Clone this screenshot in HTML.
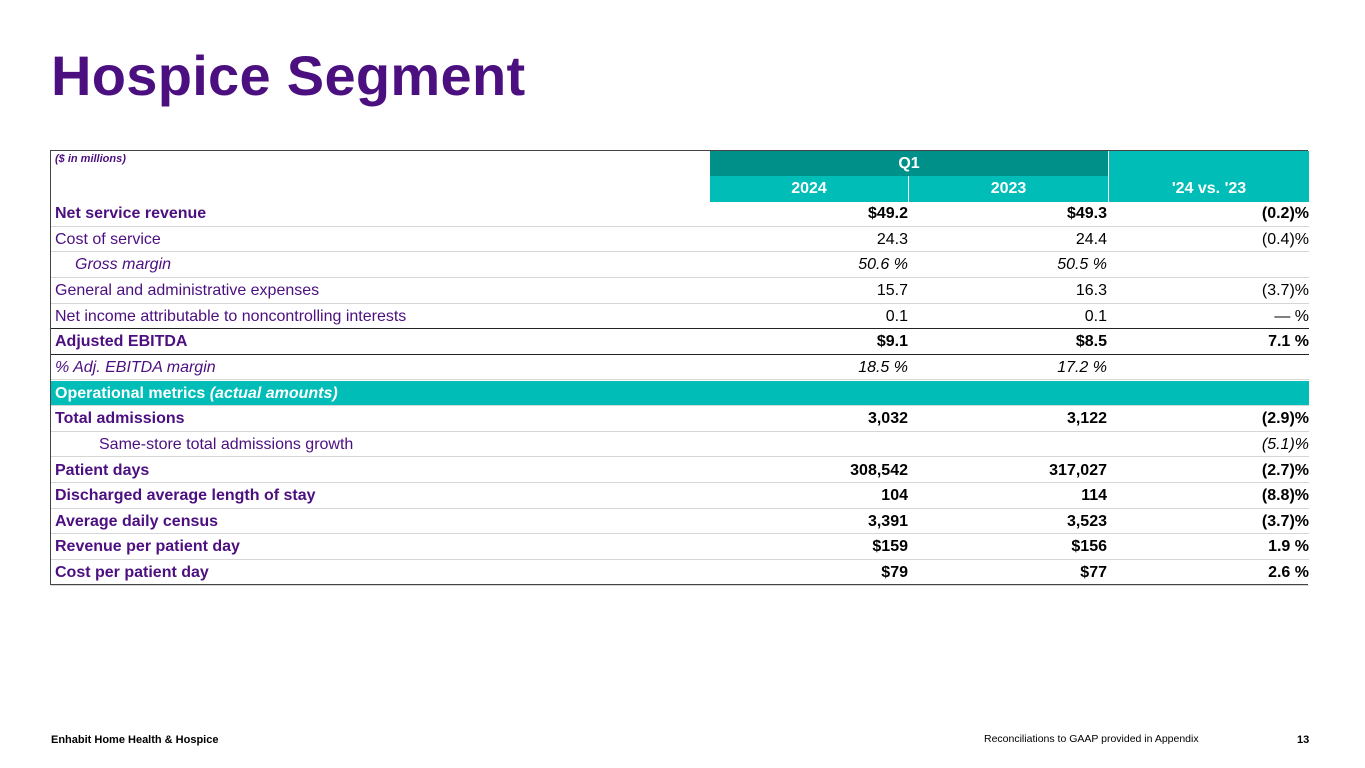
<!DOCTYPE html>
<html><head><meta charset="utf-8"><style>
body{margin:0;width:1365px;height:768px;background:#fff;position:relative;overflow:hidden;font-family:"Liberation Sans",Arial,sans-serif;}
.title{position:absolute;left:51px;top:43px;font-size:56px;font-weight:bold;color:#4c0f80;letter-spacing:0.3px;}
.tbl{position:absolute;left:50px;top:150px;width:1258px;height:435px;border:1px solid #444;border-right:none;box-sizing:border-box;border-top:1px solid #444;}
.row{position:absolute;left:0;width:1258px;height:25.6px;border-bottom:1px solid #d6d6d6;box-sizing:border-box;font-size:16px;line-height:25px;}
.lbl{position:absolute;left:4px;color:#4c0f80;white-space:nowrap;}
.v{position:absolute;text-align:right;color:#000;white-space:nowrap;}
.c1{right:401px}.c2{right:202px}.c3{right:0px}
.b{font-weight:bold}.i{font-style:italic}
.hdr{position:absolute;color:#fff;font-weight:bold;font-size:16px;text-align:center;}
.foot{position:absolute;top:734px;font-size:11px;color:#000;}
</style></head><body>
<div class="title">Hospice Segment</div>
<div class="tbl">
<div style="position:absolute;left:4px;top:2px;font-size:11px;font-weight:bold;font-style:italic;color:#4c0f80">($ in millions)</div>
<div class="hdr" style="left:659px;top:0;width:398px;height:25px;line-height:25px;background:#00908a">Q1</div>
<div class="hdr" style="left:659px;top:25px;width:199px;height:26px;line-height:26px;background:#00bdb8;border-right:1px solid #fff;box-sizing:border-box">2024</div>
<div class="hdr" style="left:858px;top:25px;width:199px;height:26px;line-height:26px;background:#00bdb8">2023</div>
<div class="hdr" style="left:1057px;top:0;width:201px;height:51px;line-height:26px;background:#00bdb8;border-left:1px solid #fff;box-sizing:border-box"><div style="margin-top:25px">'24 vs. '23</div></div>
<div id="rows"></div>
</div>
<div class="foot" style="left:51px;font-weight:bold">Enhabit Home Health &amp; Hospice</div>
<div class="foot" style="left:984px;top:733px;font-size:10.5px">Reconciliations to GAAP provided in Appendix</div>
<div class="foot" style="left:1297px;font-weight:bold">13</div>
<script>
const labels=["Net service revenue","Cost of service","Gross margin","General and administrative expenses","Net income attributable to noncontrolling interests","Adjusted EBITDA","% Adj. EBITDA margin","OP","Total admissions","Same-store total admissions growth","Patient days","Discharged average length of stay","Average daily census","Revenue per patient day","Cost per patient day"];
const v2024=["$49.2","24.3","50.6 %","15.7","0.1","$9.1","18.5 %","","3,032","","308,542","104","3,391","$159","$79"];
const v2023=["$49.3","24.4","50.5 %","16.3","0.1","$8.5","17.2 %","","3,122","","317,027","114","3,523","$156","$77"];
const vchg=["(0.2)%","(0.4)%","","(3.7)%","— %","7.1 %","","","(2.9)%","(5.1)%","(2.7)%","(8.8)%","(3.7)%","1.9 %","2.6 %"];
const styles=["b","","i","","","b","i","","b","","b","b","b","b","b"];
const indent=[0,0,20,0,0,0,0,0,0,44,0,0,0,0,0];
const slug=s=>s.toLowerCase().replace(/[^a-z0-9]+/g,'-').replace(/^-|-$/g,'');
const host=document.getElementById('rows');
labels.forEach((l,k)=>{
  const r=document.createElement('div');
  r.className='row';
  r.style.top=(50+k*25.65)+'px';
  
  
  if(k===4||k===5) r.style.borderBottom='1px solid #222';
  if(l==='OP'){
    r.style.background='#00bdb8';
    r.innerHTML='<span class="lbl b" style="color:#fff">Operational metrics <i>(actual amounts)</i></span>';
  } else {
    const st=styles[k];
    r.innerHTML='<span class="lbl '+st+'" style="left:'+(4+indent[k])+'px">'+l+'</span>'+
      '<span class="v c1 '+st+'">'+v2024[k]+'</span><span class="v c2 '+st+'">'+v2023[k]+'</span>'+
      '<span class="v c3 '+st+(k===9?' i':'')+'">'+vchg[k]+'</span>';
  }
  host.appendChild(r);
});
</script>
</body></html>
